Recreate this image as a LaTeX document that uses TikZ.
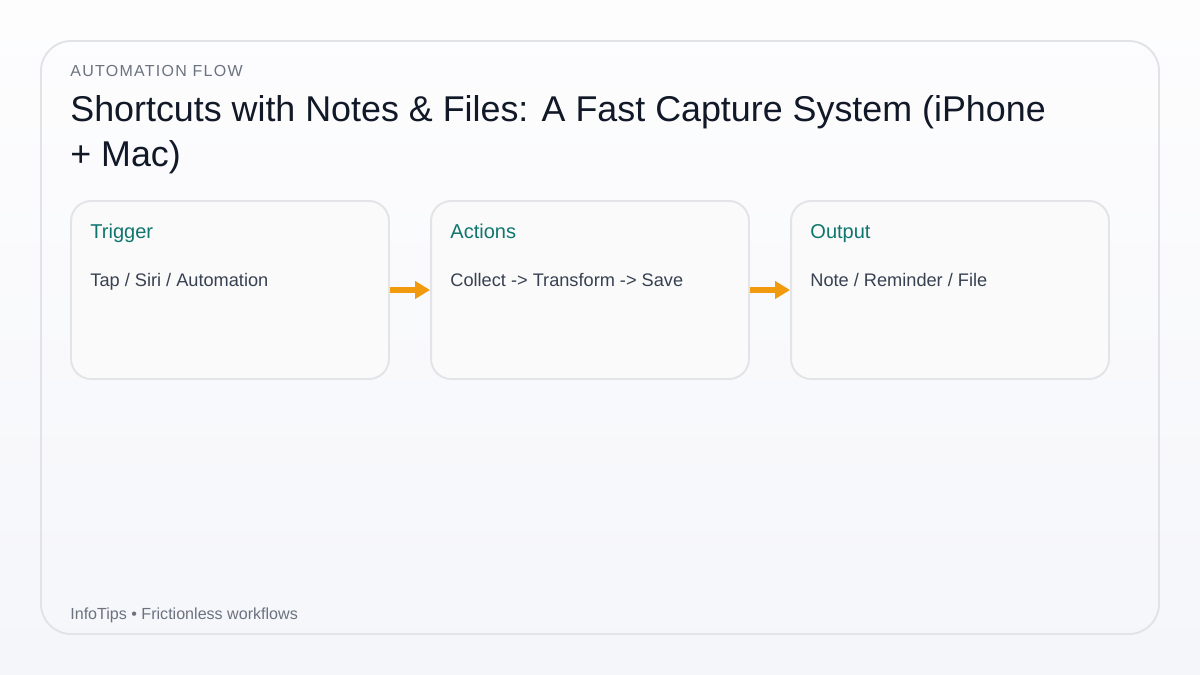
\documentclass[tikz,border=0pt]{standalone}
\usepackage{fontspec}
\setmainfont{Liberation Sans}
\newfontfamily\trackedfont[LetterSpace=8]{Liberation Sans}
\usetikzlibrary{calc, arrows.meta, positioning}

\definecolor{pagetop}{HTML}{FDFDFE}
\definecolor{pagebottom}{HTML}{F5F6FA}
\definecolor{frameline}{HTML}{E1E3E7}
\definecolor{cardfill}{HTML}{FAFAFA}
\definecolor{cardline}{HTML}{E3E4E7}
\definecolor{headteal}{HTML}{0F766E}
\definecolor{bodygray}{HTML}{374151}
\definecolor{mutedgray}{HTML}{6B7280}
\definecolor{titleink}{HTML}{111827}
\definecolor{flowamber}{HTML}{F29A0E}

\begin{document}
\begin{tikzpicture}[x=0.02cm, y=-0.02cm,
    card/.style={draw=cardline, fill=cardfill, line width=1.1pt, rounded corners=0.4cm,
      minimum width=6.36cm, minimum height=3.56cm, inner sep=0},
    cardhead/.style={anchor=base west, inner sep=0, text=headteal,
      font=\fontsize{11.4pt}{13pt}\selectfont},
    cardbody/.style={anchor=base west, inner sep=0, text=bodygray,
      font=\fontsize{10.35pt}{12pt}\selectfont},
    flow/.style={draw=flowamber, line width=3.4pt,
      -{Triangle[length=0.3cm, width=0.34cm]}}]
    % --- Page and frame ---
    \useasboundingbox (0,0) rectangle (1200,675);
    \shade[top color=pagetop, bottom color=pagebottom] (0,0) rectangle (1200,675);
    \draw[frameline, line width=1.1pt, rounded corners=0.6cm] (41,41) rectangle (1159,634);

    % --- Header ---
    \node[anchor=base west, inner sep=0, text=mutedgray,
      font=\trackedfont\fontsize{9.1pt}{11pt}\selectfont] (kicker) at (70,77) {AUTOMATION FLOW};
    \node[anchor=base west, inner sep=0, text=titleink, align=left,
      font=\fontsize{20.4pt}{26pt}\selectfont] (title) at (70,167)
      {Shortcuts with Notes \& Files: A Fast Capture System (iPhone\\+ Mac)};

    % --- Cards ---
    \node[card] (trigger) at (230,290) {};
    \node[card] (actions) at (590,290) {};
    \node[card] (output) at (950,290) {};

    \node[cardhead] (triggerhead) at ($(trigger.north west)+(20,38)$) {Trigger};
    \node[cardbody] (triggerbody) at ($(trigger.north west)+(20,86)$) {Tap / Siri / Automation};
    \node[cardhead] (actionshead) at ($(actions.north west)+(20,38)$) {Actions};
    \node[cardbody] (actionsbody) at ($(actions.north west)+(20,86)$) {Collect -> Transform -> Save};
    \node[cardhead] (outputhead) at ($(output.north west)+(20,38)$) {Output};
    \node[cardbody] (outputbody) at ($(output.north west)+(20,86)$) {Note / Reminder / File};

    % --- Flow arrows ---
    \draw[flow] (trigger.east) -- (actions.west);
    \draw[flow] (actions.east) -- (output.west);

    % --- Footer ---
    \node[anchor=base west, inner sep=0, text=mutedgray,
      font=\fontsize{9.15pt}{11pt}\selectfont] (footer) at (70,619) {InfoTips • Frictionless workflows};
\end{tikzpicture}
\end{document}
